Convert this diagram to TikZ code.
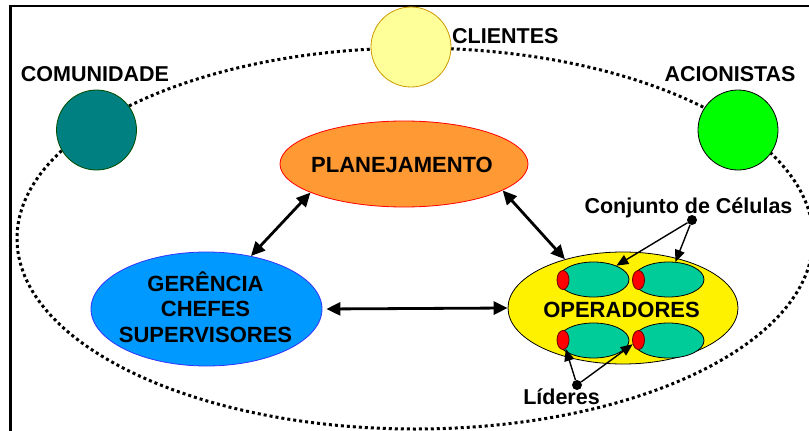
\documentclass[tikz,border=0pt]{standalone}
\usepackage{fontspec}
\setmainfont{Liberation Sans}
\usetikzlibrary{arrows.meta,shapes.geometric}

\definecolor{tealc}{HTML}{008080}
\definecolor{paleyellow}{HTML}{FFFF99}
\definecolor{goldline}{HTML}{CC9900}
\definecolor{brightgreen}{HTML}{00FF00}
\definecolor{orangec}{HTML}{FF9933}
\definecolor{bluec}{HTML}{0099FF}
\definecolor{blueline}{HTML}{3333FF}
\definecolor{cellgreen}{HTML}{00CC99}

\begin{document}
\begin{tikzpicture}[x=1pt,y=-1pt]
\tikzstyle{party} = [circle, draw, line width=0.8pt, minimum size=80pt, inner sep=0pt]
\tikzstyle{bubble} = [ellipse, draw, line width=0.8pt, inner sep=0pt]
\tikzstyle{cell} = [ellipse, draw=black, line width=0.8pt, fill=cellgreen,
minimum width=71pt, minimum height=35pt, inner sep=0pt]
\tikzstyle{leader} = [ellipse, draw=black!60!red, line width=0.8pt, fill=red,
minimum width=12pt, minimum height=19pt, inner sep=0pt]
\tikzstyle{big} = [font=\bfseries\fontsize{22}{25.6}\selectfont, align=center, inner sep=0pt]
\tikzstyle{tag} = [font=\bfseries\fontsize{21.5}{25}\selectfont, inner sep=0pt]
\tikzstyle{dotnode} = [circle, fill=black, minimum size=10pt, inner sep=0pt]
\tikzstyle{link} = [line width=2.8pt, {Triangle[length=14pt,width=13pt]}-{Triangle[length=14pt,width=13pt]}]
\tikzstyle{pointer} = [line width=1.4pt, -{Triangle[length=12pt,width=10pt]}]

\useasboundingbox (0,0) rectangle (809,431);
\draw[line width=2.3pt] (10.5,431) -- (10.5,6) -- (809,6);

% environment
\draw[line width=3pt, dash pattern=on 3pt off 3pt] (415,238.5) ellipse [x radius=398pt, y radius=190.5pt];
\node[party, fill=tealc, draw=green!30!black] (comunidade) at (96.5,130) {};
\node[party, fill=paleyellow, draw=goldline] (clientes) at (411,47) {};
\node[party, fill=brightgreen] (acionistas) at (738,130) {};
\node[tag, anchor=base] (comunidadeText) at (95,81.7) {COMUNIDADE};
\node[tag, anchor=base west] (clientesText) at (452,43.3) {CLIENTES};
\node[tag, anchor=base] (acionistasText) at (730,81) {ACIONISTAS};

% company
\node[bubble, fill=orangec, draw=red, minimum width=248pt, minimum height=86pt] (plan) at (404,164) {};
\node[bubble, fill=bluec, draw=blueline, minimum width=231pt, minimum height=114pt] (ger) at (206.5,309) {};
\node[bubble, fill=yellow, draw=black, minimum width=230pt, minimum height=112pt] (oper) at (623,308) {};
\node[big, anchor=base] (planText) at (402,172.3) {PLANEJAMENTO};
\node[big] (gerText) at (205.5,307) {GERÊNCIA\\CHEFES\\SUPERVISORES};

% cells
\node[cell] (celA) at (593.5,279.5) {};
\node[cell] (celB) at (668.5,279.5) {};
\node[cell] (celC) at (593.5,340.5) {};
\node[cell] (celD) at (668.5,340.5) {};
\node[leader] (lidA) at (563,280) {};
\node[leader] (lidB) at (638.5,280) {};
\node[leader] (lidC) at (563,340) {};
\node[leader] (lidD) at (638.5,340) {};
\node[big, anchor=base] (operText) at (621.5,317.3) {OPERADORES};

% notes
\node[tag, anchor=base] (conjunto) at (688.5,213) {Conjunto de Células};
\node[tag, anchor=base] (lideres) at (561.5,404) {Líderes};
\node[dotnode] (conjuntoDot) at (692,220) {};
\node[dotnode] (lideresDot) at (577,385) {};

\draw[link] (ger.50.5) -- (plan.197.8);
\draw[link] (plan.345) -- (oper.140);
\draw[link, shorten <=4pt] (ger.east) -- (oper.west);
\draw[pointer] (conjuntoDot) -- (celA);
\draw[pointer] (conjuntoDot) -- (celB);
\draw[pointer] (lideresDot) -- (lidC);
\draw[pointer] (lideresDot) -- (lidD);

\end{tikzpicture}
\end{document}
